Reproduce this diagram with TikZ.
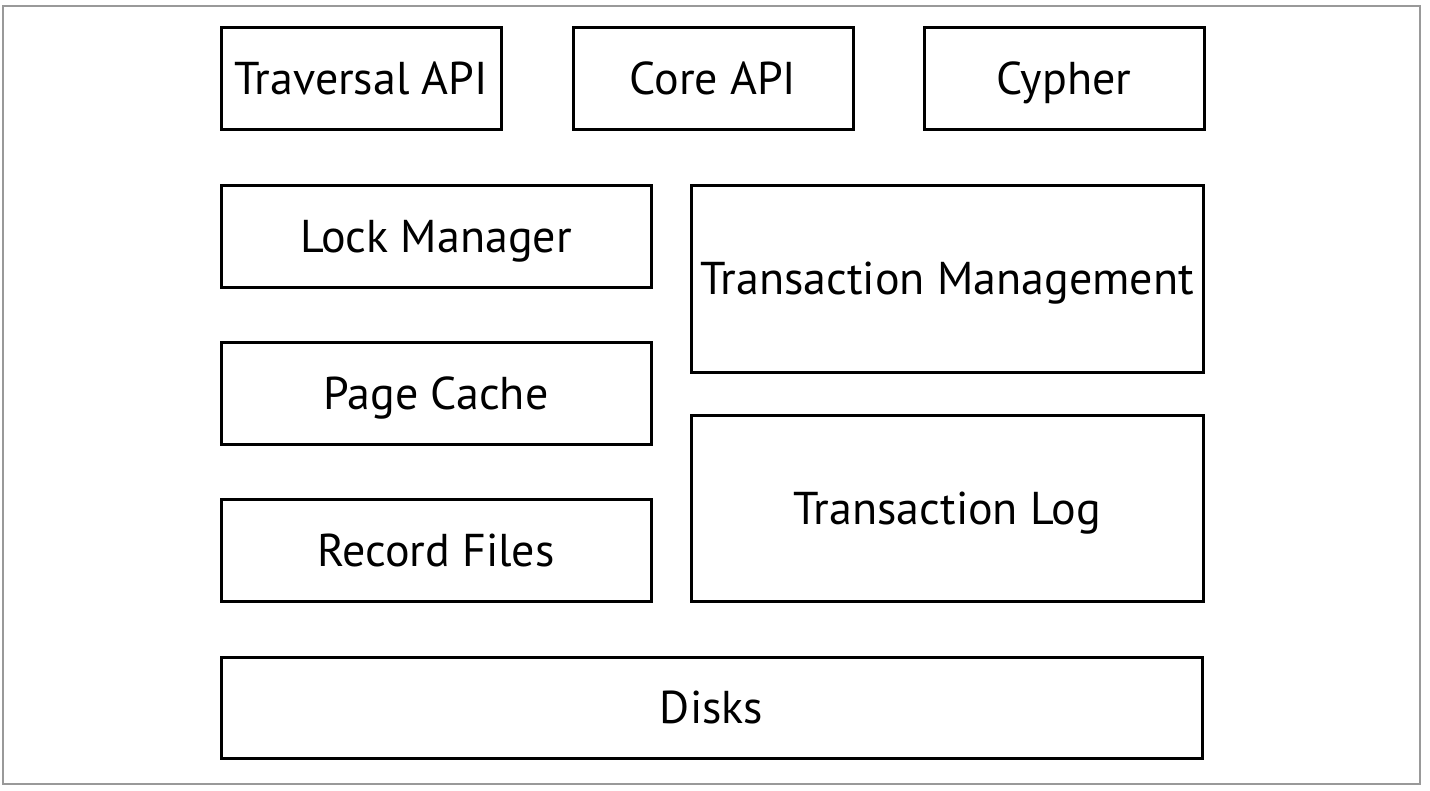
\documentclass[tikz,border=0pt]{standalone}
\usepackage{fontspec}
\setmainfont{PT Sans}
\begin{document}
\begin{tikzpicture}[x=1pt,y=-1pt,
  blk/.style={draw=black,line width=3pt,inner sep=0pt,outer sep=0pt,
    font=\fontsize{46}{50}\selectfont,text height=32pt,text depth=0pt,anchor=center},
]
\useasboundingbox (0,0) rectangle (1430,790);
\draw[gray!80,line width=1.5pt] (3,6) rectangle (1420,784);
\node[blk,minimum width=280pt,minimum height=102pt] (trav) at (361,78) {Traversal API};
\node[blk,minimum width=280pt,minimum height=102pt] (core) at (713,78) {Core API};
\node[blk,minimum width=280pt,minimum height=102pt] (cyph) at (1064,78) {Cypher};
\node[blk,minimum width=430pt,minimum height=102pt] (lock) at (436,236) {Lock Manager};
\node[blk,minimum width=430pt,minimum height=102pt] (page) at (436,393) {Page Cache};
\node[blk,minimum width=430pt,minimum height=102pt] (rec) at (436,550.5) {Record Files};
\node[blk,minimum width=512pt,minimum height=187pt] (tm) at (947,278.5) {Transaction Management};
\node[blk,minimum width=512pt,minimum height=186pt] (tl) at (947,508) {Transaction Log};
\node[blk,minimum width=981pt,minimum height=101pt] (disk) at (711.5,707.5) {Disks};
\end{tikzpicture}
\end{document}
